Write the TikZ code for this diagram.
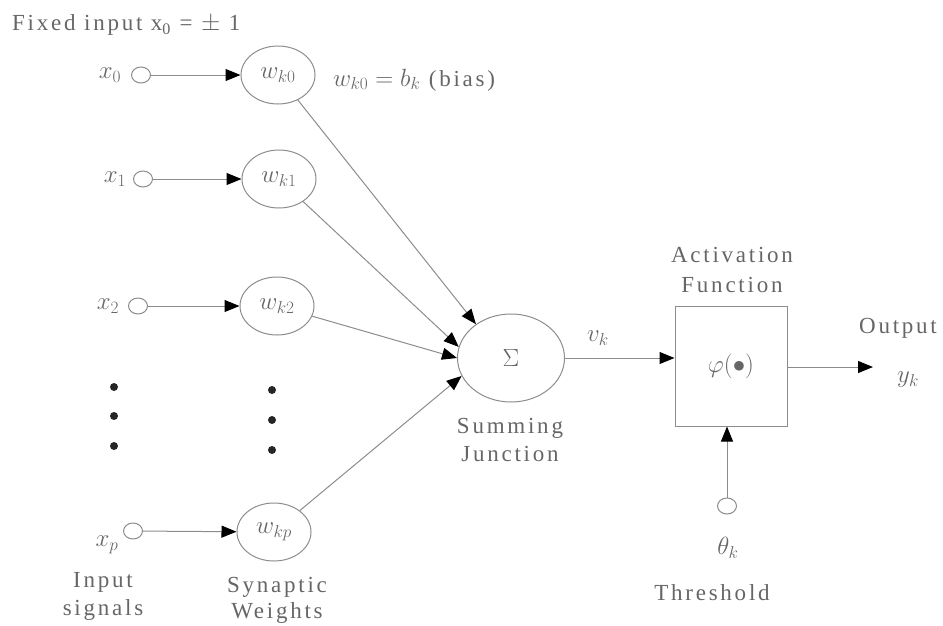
\documentclass[tikz,border=0pt]{standalone}
\usepackage{fontspec}
\setmainfont{Liberation Serif}[LetterSpace=12]
\usetikzlibrary{arrows.meta,shapes.geometric}
\begin{document}
\begin{tikzpicture}[x=1pt,y=-1pt,
  every node/.style={font=\fontsize{23}{27}\selectfont, text=black!60},
  ln/.style={draw=black!45, line width=1pt},
  arr/.style={ln, -{Triangle[length=15pt,width=12pt,color=black]}},
  inp/.style={ellipse, draw=black!45, line width=1pt, minimum width=19pt, minimum height=16pt, inner sep=0pt},
  wt/.style={ellipse, draw=black!45, line width=1pt, minimum width=74pt, minimum height=58pt, inner sep=0pt},
  lbl/.style={inner sep=0pt, align=center},
  dotm/.style={circle, fill=black!85, minimum size=8pt, inner sep=0pt}
]
\useasboundingbox (0,0) rectangle (943,625);

\node[lbl, anchor=west] (fixed) at (12,25) {Fixed input x\textsubscript{0} = $\pm$ 1};

% inputs
\node[inp] (x0) at (141,75) {};
\node[inp] (x1) at (143,179) {};
\node[inp] (x2) at (138,306) {};
\node[inp] (xp) at (133,531) {};
\node[lbl] (lx0) at (110,75) {$x_0$};
\node[lbl] (lx1) at (115,179) {$x_1$};
\node[lbl] (lx2) at (108,306) {$x_2$};
\node[lbl] (lxp) at (107,545) {$x_p$};

% weights
\node[wt] (w0) at (278,75) {$w_{k0}$};
\node[wt] (w1) at (279,179) {$w_{k1}$};
\node[wt] (w2) at (277,306) {$w_{k2}$};
\node[wt] (wp) at (274,532) {$w_{kp}$};
\node[lbl, anchor=west] (bias) at (333,80) {$w_{k0} = b_k$ (bias)};

% dots
\node[dotm] (d1) at (114,387) {};
\node[dotm] (d2) at (114,416) {};
\node[dotm] (d3) at (114,446) {};
\node[dotm] (e1) at (272,390) {};
\node[dotm] (e2) at (272,420) {};
\node[dotm] (e3) at (272,450) {};

\node[lbl] (in1) at (103,582) {Input};
\node[lbl] (in2) at (103,610) {signals};
\node[lbl] (sy1) at (277,587) {Synaptic};
\node[lbl] (sy2) at (277,613) {Weights};

% summing junction
\node[ellipse, draw=black!45, line width=1pt, minimum width=107pt, minimum height=88pt, inner sep=0pt] (sum) at (511,358) {$\Sigma$};
\node[lbl] (su1) at (510,428) {Summing};
\node[lbl] (su2) at (510,454) {Junction};
\node[lbl] (vk) at (598,338) {$v_k$};

% activation box
\node[draw=black!45, line width=1pt, minimum width=112pt, minimum height=120pt, inner sep=0pt] (box) at (731,366) {$\varphi(\bullet)$};
\node[lbl] (ac1) at (732,255) {Activation};
\node[lbl] (ac2) at (732,285) {Function};

\node[lbl] (out) at (898,328) {Output};
\node[lbl] (yk) at (908,380) {$y_k$};
\coordinate (oc) at (873,367);

% threshold
\node[inp] (th) at (727,506) {};
\node[lbl] (thk) at (728,548) {$\theta_k$};
\node[lbl] (thl) at (712,593) {Threshold};

% connectors
\draw[arr] (x0) -- (w0);
\draw[arr] (x1) -- (w1);
\draw[arr] (x2) -- (w2);
\draw[arr] (xp) -- (wp);
\draw[arr] (w0) -- (sum.136);
\draw[arr] (w1) -- (sum.168);
\draw[arr] (w2) -- (sum.180);
\draw[arr] (wp) -- (sum.200);
\draw[arr] (sum.east) -- (box.west |- sum.east);
\draw[arr] (box.east |- oc) -- (oc);
\draw[arr] (th) -- (th |- box.south);
\end{tikzpicture}
\end{document}
